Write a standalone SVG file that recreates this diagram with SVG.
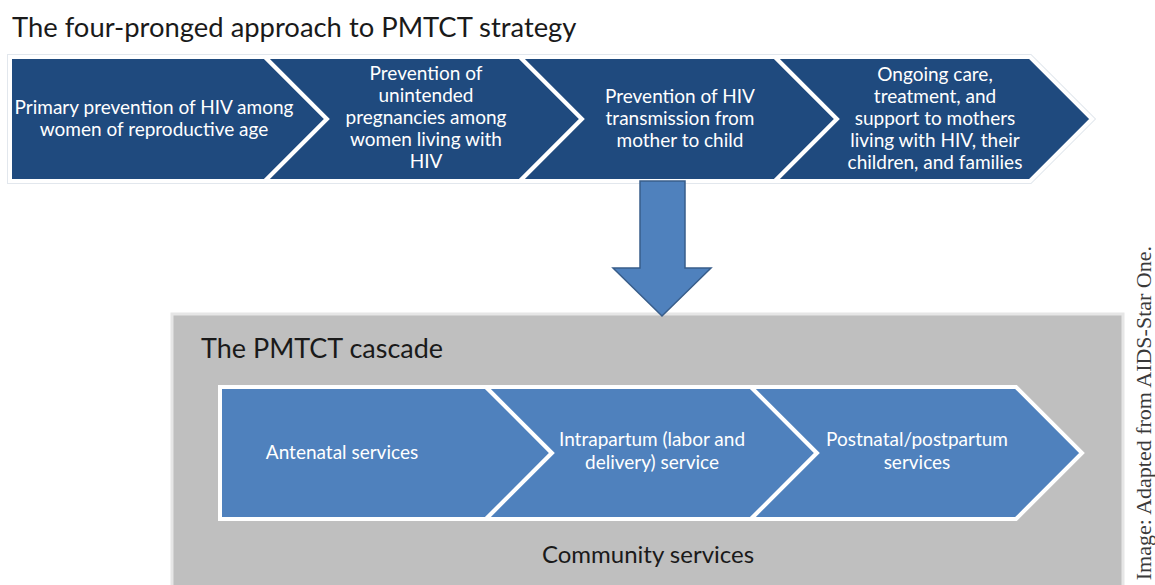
<svg xmlns="http://www.w3.org/2000/svg" width="1155" height="585" viewBox="0 0 1155 585">
<style>
.band{fill:#1f4a7e;stroke:#ffffff;stroke-width:4;stroke-linejoin:miter}
.casc{fill:#4f81bd;stroke:#ffffff;stroke-width:4;stroke-linejoin:miter}
.wt{font-family:Lato,"Open Sans","Liberation Sans",sans-serif;font-size:19px;fill:#ffffff;text-anchor:middle}
.hd{font-family:Lato,"Open Sans","Liberation Sans",sans-serif;fill:#1a1a1a}
.cr{font-family:"Liberation Serif","DejaVu Serif",serif;font-size:22px;fill:#3a3a3a}
</style>
<rect width="1155" height="585" fill="#ffffff"/>
<g id="title"><text class="hd" x="12" y="37" font-size="27.4">The four-pronged approach to PMTCT strategy</text></g>
<path d="M10,57 H1030 L1092,119 L1030,181 H10 Z" fill="none" stroke="#e2e7ed" stroke-width="6"/>
<g id="prong1"><polygon class="band" points="10,57 265,57 327,119 265,181 10,181"/>
<text class="wt" x="154" y="114">Primary prevention of HIV among<tspan x="154" dy="22">women of reproductive age</tspan></text></g>
<g id="prong2"><polygon class="band" points="265,57 520,57 582,119 520,181 265,181 327,119"/>
<text class="wt" x="426" y="80">Prevention of<tspan x="426" dy="22">unintended</tspan><tspan x="426" dy="22">pregnancies among</tspan><tspan x="426" dy="22">women living with</tspan><tspan x="426" dy="22">HIV</tspan></text></g>
<g id="prong3"><polygon class="band" points="520,57 775,57 837,119 775,181 520,181 582,119"/>
<text class="wt" x="680" y="103">Prevention of HIV<tspan x="680" dy="22">transmission from</tspan><tspan x="680" dy="22">mother to child</tspan></text></g>
<g id="prong4"><polygon class="band" points="775,57 1030,57 1092,119 1030,181 775,181 837,119"/>
<text class="wt" x="935" y="81">Ongoing care,<tspan x="935" dy="22">treatment, and</tspan><tspan x="935" dy="22">support to mothers</tspan><tspan x="935" dy="22">living with HIV, their</tspan><tspan x="935" dy="22">children, and families</tspan></text></g>
<g id="cascade">
<rect x="172" y="314" width="951" height="280" fill="#bfbfbf" stroke="#e6e6e6" stroke-width="3"/>
<text class="hd" x="201" y="358" font-size="27">The PMTCT cascade</text>
</g>
<g id="antenatal"><polygon class="casc" points="220,387 486,387 552,453 486,519 220,519"/>
<text class="wt" x="342" y="459">Antenatal services</text></g>
<g id="intrapartum"><polygon class="casc" points="486,387 751,387 817,453 751,519 486,519 552,453"/>
<text class="wt" x="652" y="446">Intrapartum (labor and<tspan x="652" dy="23">delivery) service</tspan></text></g>
<g id="postnatal"><polygon class="casc" points="751,387 1016,387 1082,453 1016,519 751,519 817,453"/>
<text class="wt" x="917" y="446">Postnatal/postpartum<tspan x="917" dy="23">services</tspan></text></g>
<g id="community"><text class="hd" x="648" y="563" font-size="24" text-anchor="middle">Community services</text></g>
<g id="connectors">
<polygon points="640,181 685,181 685,268 711,268 662,316 613,268 640,268" fill="#4f81bd" stroke="#385d8a" stroke-width="1.5" stroke-linejoin="miter"/>
</g>
<g id="credit"><text class="cr" transform="translate(1151,246) rotate(-90)" text-anchor="end">Image: Adapted from AIDS-Star One.</text></g>
</svg>
